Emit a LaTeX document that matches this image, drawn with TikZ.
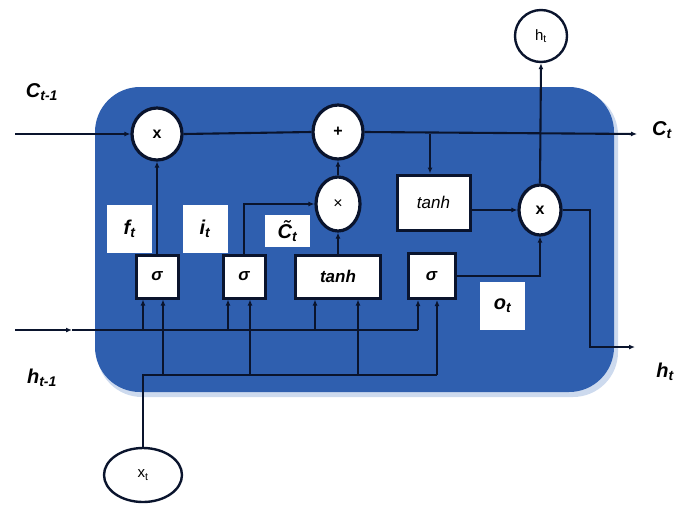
\documentclass[tikz,border=0pt]{standalone}
\usepackage{fontspec}
\setmainfont{Liberation Sans}
\usetikzlibrary{arrows.meta,shapes.geometric}
\definecolor{cellblue}{RGB}{47,95,175}
\definecolor{ink}{RGB}{10,20,45}
\definecolor{rim}{RGB}{205,218,238}
\begin{document}
\begin{tikzpicture}[x=1pt,y=-1pt,
 op/.style={ellipse,draw=ink,line width=3.2pt,fill=white,inner sep=0pt,font=\bfseries\fontsize{16}{18}\selectfont},
 gate/.style={rectangle,draw=ink,line width=3pt,fill=white,inner sep=0pt,font=\bfseries\itshape\fontsize{17}{19}\selectfont},
 lab/.style={rectangle,fill=white,inner sep=0pt,minimum width=45pt,font=\bfseries\itshape\fontsize{20}{22}\selectfont},
 wire/.style={draw=ink,line width=2.1pt},
 arr/.style={wire,-{Latex[length=6pt,width=5pt]}},
 outlab/.style={inner sep=0pt,font=\bfseries\itshape\fontsize{20}{22}\selectfont}]
\useasboundingbox (0,0) rectangle (684,504);
% cell body
\fill[rim,rounded corners=45pt] (97,90) rectangle (618,397);
\fill[cellblue,rounded corners=45pt] (95,87) rectangle (614,392);
% gates
\node[gate,minimum width=42pt,minimum height=43pt] (s1) at (157,276.5) {σ};
\node[gate,minimum width=42pt,minimum height=43pt] (s2) at (244,276.5) {σ};
\node[gate,minimum width=85pt,minimum height=43pt] (th1) at (338,276.5) {tanh};
\node[gate,minimum width=47pt,minimum height=45pt] (s4) at (431.5,276) {σ};
\node[gate,minimum width=73pt,minimum height=55pt,font=\itshape\fontsize{17}{19}\selectfont] (th2) at (433.5,202.5) {tanh};
% pointwise ops
\node[op,minimum width=50pt,minimum height=52pt] (xf) at (157,134) {x};
\node[op,minimum width=50pt,minimum height=54pt] (pl) at (338,132) {+};
\node[op,minimum width=44pt,minimum height=54pt,font=\fontsize{16}{18}\selectfont] (xm) at (338,204) {×};
\node[op,minimum width=42pt,minimum height=50pt] (xr) at (540,210) {x};
\node[op,minimum width=52pt,minimum height=52pt,line width=2.4pt,font=\fontsize{15}{17}\selectfont] (ht) at (541,36) {h\textsubscript{t}};
\node[op,minimum width=78pt,minimum height=54pt,line width=2.4pt,font=\fontsize{15}{17}\selectfont] (xt) at (143,475) {x\textsubscript{t}};
% labels
\node[lab,minimum height=48pt] (ft) at (129.5,229) {f\textsubscript{t}};
\node[lab,minimum height=48pt] (it) at (205,229) {i\textsubscript{t}};
\node[lab,minimum height=32pt] (ct) at (287.5,231) {\~{C}\textsubscript{t}};
\node[lab,minimum height=48pt] (ot) at (502.5,306) {o\textsubscript{t}};
\node[outlab] (lcin) at (42,92) {C\textsubscript{t-1}};
\node[outlab] (lhin) at (42,378) {h\textsubscript{t-1}};
\node[outlab] (lcout) at (662,130) {C\textsubscript{t}};
\node[outlab] (lhout) at (665,372) {h\textsubscript{t}};
% coordinates
\coordinate (cin) at (15,134);
\coordinate (cout) at (637,134);
\coordinate (tap) at (430,134);
\coordinate (hin) at (15,330);
\coordinate (hmid) at (72,330);
\coordinate (hend) at (418,330);
\coordinate (bus1) at (143,375);
\coordinate (bus2) at (437,375);
\coordinate (hc) at (590,347);
\coordinate (hout) at (635,347);
% cell state line
\draw[arr] (cin) -- (xf.west);
\draw[wire] (xf.east) -- (pl.west);
\draw[arr] (pl.east) -- (cout);
\draw[arr] (tap) -- (tap |- th2.north);
% gate outputs
\draw[arr] (s1.north) -- (xf.south);
\draw[arr] (s2.north) |- (xm.west);
\draw[arr] (th1.north) -- (xm.south);
\draw[arr] (xm.north) -- (pl.south);
\draw[arr] (th2.east |- xr.west) -- (xr.west);
\draw[arr] (s4.east) -| (xr.south);
\draw[arr] (xr.north) -- (ht.south);
\draw[arr] (xr.east) -| (hc) -- (hout);
% h_{t-1} line
\draw[arr] (hin) -- (hmid);
\draw[wire] (hmid) -- (hend);
\draw[arr] ([xshift=-14pt]s1.south |- hend) -- ([xshift=-14pt]s1.south);
\draw[arr] ([xshift=-16pt]s2.south |- hend) -- ([xshift=-16pt]s2.south);
\draw[arr] ([xshift=-23pt]th1.south |- hend) -- ([xshift=-23pt]th1.south);
\draw[arr] ([xshift=-13.5pt]s4.south |- hend) -- ([xshift=-13.5pt]s4.south);
% x_t bus
\draw[wire] (xt.north) -- (bus1) -- (bus2);
\draw[arr] ([xshift=6pt]s1.south |- bus1) -- ([xshift=6pt]s1.south);
\draw[arr] ([xshift=6pt]s2.south |- bus1) -- ([xshift=6pt]s2.south);
\draw[arr] ([xshift=20pt]th1.south |- bus1) -- ([xshift=20pt]th1.south);
\draw[arr] (bus2) -- (bus2 |- s4.south);
\end{tikzpicture}
\end{document}
